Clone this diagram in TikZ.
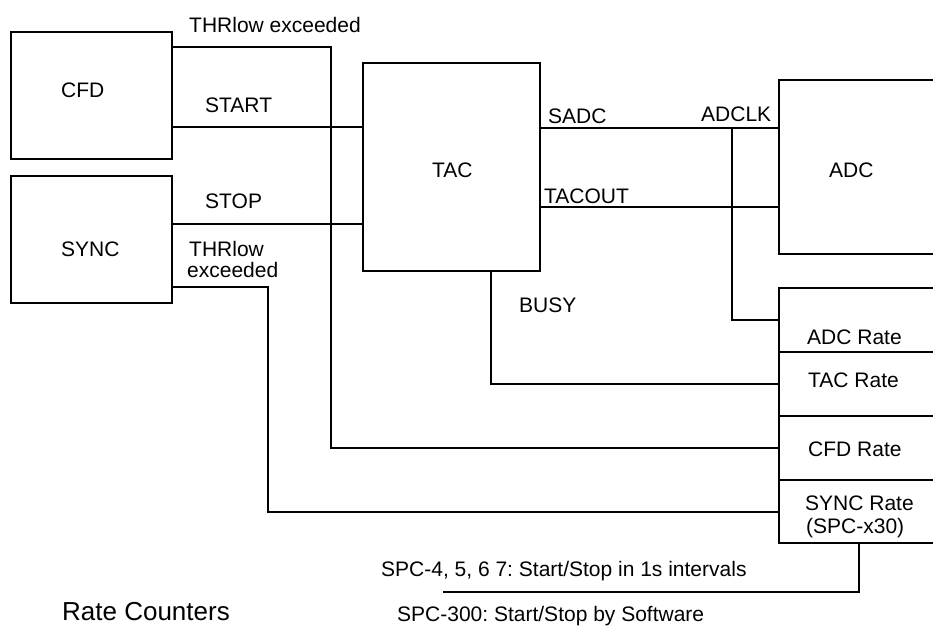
\documentclass[tikz,border=0pt]{standalone}
\usepackage{fontspec}
\setmainfont{Liberation Sans}
\frenchspacing
\begin{document}
\begin{tikzpicture}[x=1pt,y=-1pt,line width=2.4pt,
  blk/.style={draw,rectangle,inner sep=0pt},
  lbl/.style={inner sep=0pt,anchor=base west,font=\fontsize{21}{25}\selectfont},
  biglbl/.style={inner sep=0pt,anchor=base west,font=\fontsize{26}{31}\selectfont}]
\useasboundingbox (0,0) rectangle (933,625);
\clip (0,0) rectangle (933,625);
% blocks
\node[blk,minimum width=161pt,minimum height=127pt] (cfd) at (91.5,95.5) {};
\node[blk,minimum width=161pt,minimum height=127pt] (sync) at (91.5,239.5) {};
\node[blk,minimum width=177pt,minimum height=208pt] (tac) at (451.5,167) {};
\node[blk,minimum width=181pt,minimum height=174pt] (adc) at (869.5,167) {};
\node[blk,minimum width=181pt,minimum height=255pt] (rate) at (869.5,415.5) {};
\draw (rate.west |- 0,352) -- (rate.east |- 0,352);
\draw (rate.west |- 0,416) -- (rate.east |- 0,416);
\draw (rate.west |- 0,480) -- (rate.east |- 0,480);
% connectors
\coordinate (adclk) at (732,128);
\draw (cfd.east |- 0,47) -| (331,448) -- (rate.west |- 0,448);
\draw (cfd.east |- 0,127) -- (tac.west |- 0,127);
\draw (sync.east |- 0,224) -- (tac.west |- 0,224);
\draw (sync.east |- 0,287) -| (268,512) -- (rate.west |- 0,512);
\draw (tac.east |- adclk) -- (adc.west |- adclk);
\draw (tac.east |- 0,207) -- (adc.west |- 0,207);
\draw (adclk) -- (732,320) -- (rate.west |- 0,320);
\draw (tac.south -| 491,0) |- (rate.west |- 0,384);
\draw (rate.south -| 859,0) |- (443,592);
% labels
\node[lbl] (tthr1) at (188,32) {THRlow exceeded};
\node[lbl] (tcfd) at (60,97) {CFD};
\node[lbl] (tstart) at (204,112) {START};
\node[lbl] (tstop) at (204,208) {STOP};
\node[lbl] (tsync) at (60,256) {SYNC};
\node[lbl] (tthr2a) at (188,256) {THRlow};
\node[lbl] (tthr2b) at (186,277) {exceeded};
\node[lbl] (ttac) at (431,177) {TAC};
\node[lbl] (tsadc) at (547,123) {SADC};
\node[lbl] (tadclk) at (700,121) {ADCLK};
\node[lbl] (ttacout) at (543,203) {TACOUT};
\node[lbl] (tadc) at (828,177) {ADC};
\node[lbl] (tbusy) at (518,312) {BUSY};
\node[lbl] (tadcr) at (806,344) {ADC Rate};
\node[lbl] (ttacr) at (807,387) {TAC Rate};
\node[lbl] (tcfdr) at (807,456) {CFD Rate};
\node[lbl] (tsyncr) at (804,510) {SYNC Rate};
\node[lbl] (tspcx) at (805,533) {(SPC-x30)};
\node[lbl] (tspc4) at (380,576) {SPC-4, 5, 6 7: Start/Stop in 1s intervals};
\node[lbl] (tspc300) at (396,621) {SPC-300: Start/Stop by Software};
\node[biglbl] (trc) at (61,620) {Rate Counters};
\end{tikzpicture}
\end{document}
